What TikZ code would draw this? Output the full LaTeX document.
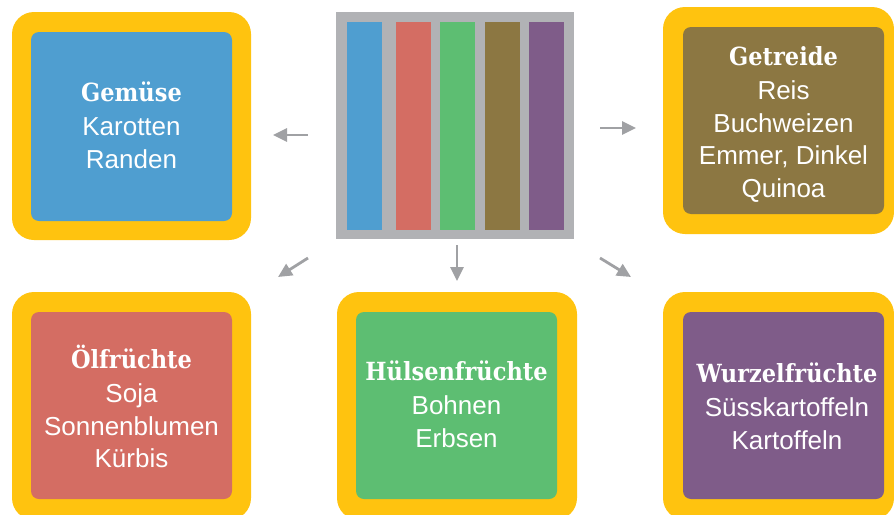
\documentclass[tikz,border=0pt]{standalone}
\usepackage{fontspec}
\setmainfont{Liberation Sans}
\newfontfamily\slabfont{DejaVu Serif}[FakeStretch=0.9]
\usetikzlibrary{arrows.meta}
\definecolor{boxyellow}{HTML}{FFC30F}
\definecolor{cblue}{HTML}{4F9ED0}
\definecolor{cred}{HTML}{D46D63}
\definecolor{cgreen}{HTML}{5DBE72}
\definecolor{cbrown}{HTML}{8C7742}
\definecolor{cpurple}{HTML}{7F5C89}
\definecolor{panelgray}{HTML}{B1B2B5}
\definecolor{arrowgray}{HTML}{A0A1A4}
\newcommand\boxtext[2]{\begin{tabular}[t]{@{}c@{}}{\slabfont\bfseries\fontsize{25}{32.5}\selectfont #1}\\[2pt] #2\end{tabular}}
\begin{document}
\begin{tikzpicture}[x=1pt,y=-1pt,
  outerbox/.style={fill=boxyellow, rounded corners=22pt, inner sep=0pt},
  innerbox/.style={fill=#1, rounded corners=8pt, inner sep=0pt, minimum width=201pt},
  bar/.style={fill=#1, inner sep=0pt, minimum width=35pt, minimum height=208pt},
  arr/.style={draw=arrowgray, line width=2.8pt, -{Triangle[length=14pt,width=13pt]}},
  lbl/.style={text=white, inner sep=0pt, anchor=base, font=\fontsize{26}{32.5}\selectfont}
]
\useasboundingbox (0,0) rectangle (894,514);
\clip (0,0) rectangle (894,514);
% top left
\node[outerbox, minimum width=239pt, minimum height=228pt] (gemO) at (131.5,126) {};
\node[innerbox=cblue, minimum height=189pt] (gemI) at (131.5,126.5) {};
\node[lbl] (gemT) at (131.5,101) {\boxtext{Gemüse}{Karotten\\Randen}};
% top right
\node[outerbox, minimum width=231pt, minimum height=227pt] (getO) at (778.5,120.5) {};
\node[innerbox=cbrown, minimum height=187pt] (getI) at (783.5,120.5) {};
\node[lbl] (getT) at (783.5,65) {\boxtext{Getreide}{Reis\\Buchweizen\\Emmer, Dinkel\\Quinoa}};
% bottom left
\node[outerbox, minimum width=239pt, minimum height=228pt] (oelO) at (131.5,406) {};
\node[innerbox=cred, minimum height=187pt] (oelI) at (131.5,405.5) {};
\node[lbl] (oelT) at (131.5,368) {\boxtext{Ölfrüchte}{Soja\\Sonnenblumen\\Kürbis}};
% bottom middle
\node[outerbox, minimum width=240pt, minimum height=228pt] (hueO) at (457,406) {};
\node[innerbox=cgreen, minimum height=187pt] (hueI) at (456.5,405.5) {};
\node[lbl] (hueT) at (456.5,380) {\boxtext{Hülsenfrüchte}{Bohnen\\Erbsen}};
% bottom right
\node[outerbox, minimum width=231pt, minimum height=228pt] (wurO) at (778.5,406) {};
\node[innerbox=cpurple, minimum height=187pt] (wurI) at (783.5,405.5) {};
\node[lbl] (wurT) at (787,382) {\boxtext{Wurzelfrüchte}{Süsskartoffeln\\Kartoffeln}};
% centre panel
\node[fill=panelgray, inner sep=0pt, minimum width=238pt, minimum height=227pt] (panel) at (455,125.5) {};
\node[bar=cblue] (b1) at (364.5,126) {};
\node[bar=cred] (b2) at (413.5,126) {};
\node[bar=cgreen] (b3) at (457.5,126) {};
\node[bar=cbrown] (b4) at (502.5,126) {};
\node[bar=cpurple] (b5) at (546.5,126) {};
% arrows
\coordinate (a1s) at (308,135); \coordinate (a1e) at (273,135);
\coordinate (a2s) at (600,128); \coordinate (a2e) at (636,128);
\coordinate (a3s) at (308,258); \coordinate (a3e) at (278,277);
\coordinate (a4s) at (457,245); \coordinate (a4e) at (457,281);
\coordinate (a5s) at (600,258); \coordinate (a5e) at (631,277);
\draw[arr] (a1s) -- (a1e);
\draw[arr] (a2s) -- (a2e);
\draw[arr] (a3s) -- (a3e);
\draw[arr] (a4s) -- (a4e);
\draw[arr] (a5s) -- (a5e);
\end{tikzpicture}
\end{document}
